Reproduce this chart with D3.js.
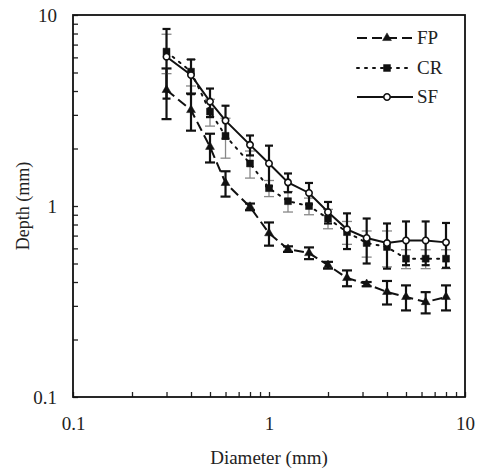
<!DOCTYPE html>
<html>
<head>
<meta charset="utf-8">
<script src="https://cdn.jsdelivr.net/npm/d3@7"></script>
<style>
  body { margin: 0; background: #fff; }
</style>
</head>
<body>
<script>
// diameters (mm) shared by all three series
const diameters = [0.3, 0.4, 0.5, 0.6, 0.8, 1, 1.25, 1.6, 2, 2.5, 3.15, 4, 5, 6.3, 8];

const fpDepth = [4.05, 3.18, 2.04, 1.32, 0.99, 0.72, 0.595, 0.567, 0.49, 0.42, 0.39, 0.355, 0.334, 0.314, 0.334];
const fpErr   = [1.2, 0.7, 0.35, 0.2, 0.04, 0.1, 0.02, 0.04, 0.02, 0.04, 0.01, 0.05, 0.05, 0.04, 0.05];

const crDepth = [6.43, 5.05, 3.12, 2.33, 1.67, 1.24, 1.06, 1.0, 0.86, 0.73, 0.64, 0.61, 0.53, 0.53, 0.53];
const crErr   = [1.5, 0.8, 0.5, 0.55, 0.27, 0.12, 0.13, 0.1, 0.1, 0.1, 0.1, 0.13, 0.06, 0.06, 0.06];

const sfDepth = [6.05, 4.85, 3.52, 2.80, 2.09, 1.67, 1.33, 1.17, 0.93, 0.755, 0.68, 0.64, 0.66, 0.66, 0.645];
const sfErr   = [2.4, 1.0, 0.6, 0.55, 0.25, 0.4, 0.15, 0.15, 0.12, 0.16, 0.18, 0.17, 0.17, 0.17, 0.17];

const xTicks = [0.1, 1, 10];
const yTicks = [0.1, 1, 10];

const W = 477, H = 470;
const margin = { left: 73, right: 12, top: 15, bottom: 73 };
const SERIF = '"Liberation Serif", "DejaVu Serif", serif';

const x = d3.scaleLog().domain([0.1, 10]).range([margin.left, W - margin.right]);
const y = d3.scaleLog().domain([0.1, 10]).range([H - margin.bottom, margin.top]);

const svg = d3.select('body').append('svg')
    .attr('width', W)
    .attr('height', H)
    .attr('font-family', SERIF);

// minor ticks at every 1..9 in each decade
const minorTicks = d3.range(-1, 1).flatMap(p => d3.range(1, 10).map(k => k * Math.pow(10, p))).concat([10]);
const fmt = d => xTicks.includes(d) ? (d === 0.1 ? '0.1' : String(d)) : '';

const xAxis = svg.append('g')
    .attr('transform', `translate(0,${y.range()[0]})`)
    .call(d3.axisBottom(x).tickValues(minorTicks).tickFormat(fmt).tickSize(-5).tickPadding(20));

const yAxis = svg.append('g')
    .attr('transform', `translate(${margin.left},0)`)
    .call(d3.axisLeft(y).tickValues(minorTicks).tickFormat(d => yTicks.includes(d) ? fmt(d) : '').tickSize(-5).tickPadding(16));

[xAxis, yAxis].forEach(g => {
    g.attr('font-family', SERIF);
    g.select('.domain').remove();
    g.selectAll('.tick line').attr('stroke', '#222').attr('stroke-width', 1.3);
    g.selectAll('.tick text').attr('font-family', SERIF).style('font-size', '19px').attr('fill', '#222');
});

// frame
svg.append('rect')
    .attr('x', x.range()[0]).attr('y', y.range()[1])
    .attr('width', x.range()[1] - x.range()[0])
    .attr('height', y.range()[0] - y.range()[1])
    .attr('fill', 'none').attr('stroke', '#111').attr('stroke-width', 1.8);

svg.append('text')
    .attr('x', (x.range()[0] + x.range()[1]) / 2)
    .attr('y', 464)
    .attr('text-anchor', 'middle')
    .attr('font-family', SERIF)
    .attr('fill', '#222')
    .style('font-size', '19px')
    .text('Diameter (mm)');

svg.append('text')
    .attr('transform', `translate(29,${(y.range()[0] + y.range()[1]) / 2}) rotate(-90)`)
    .attr('text-anchor', 'middle')
    .attr('font-family', SERIF)
    .attr('fill', '#222')
    .style('font-size', '18px')
    .text('Depth (mm)');

const series = [
    { name: 'FP', depth: fpDepth, err: fpErr, dash: '10,5', cap: 5, barColor: '#111', barWidth: 2.2, symbol: d3.symbolTriangle, size: 34, fill: '#111' },
    { name: 'CR', depth: crDepth, err: crErr, dash: '2,6', cap: 5, barColor: '#888', barWidth: 1.3, symbol: d3.symbolSquare, size: 48, fill: '#111' },
    { name: 'SF', depth: sfDepth, err: sfErr, dash: null, cap: 4, barColor: '#111', barWidth: 2.2, symbol: d3.symbolCircle, size: 32, fill: '#fff' }
];

const line = d3.line().x(d => x(d.d)).y(d => y(d.v));

series.forEach(s => {
    const pts = diameters.map((d, i) => ({ d, v: s.depth[i], e: s.err[i] }));
    const g = svg.append('g').attr('class', 'series-' + s.name);

    // error bars
    const bars = g.selectAll('.err').data(pts).enter().append('g')
        .attr('stroke', s.barColor).attr('stroke-width', s.barWidth);
    bars.append('line')
        .attr('x1', p => x(p.d)).attr('x2', p => x(p.d))
        .attr('y1', p => y(p.v + p.e)).attr('y2', p => y(Math.max(p.v - p.e, 0.11)));
    bars.append('line')
        .attr('x1', p => x(p.d) - s.cap).attr('x2', p => x(p.d) + s.cap)
        .attr('y1', p => y(p.v + p.e)).attr('y2', p => y(p.v + p.e));
    bars.append('line')
        .attr('x1', p => x(p.d) - s.cap).attr('x2', p => x(p.d) + s.cap)
        .attr('y1', p => y(p.v - p.e)).attr('y2', p => y(p.v - p.e));

    g.append('path')
        .attr('d', line(pts))
        .attr('fill', 'none')
        .attr('stroke', '#111')
        .attr('stroke-width', 2)
        .attr('stroke-linecap', s.dash === '2,6' ? 'round' : 'butt')
        .attr('stroke-dasharray', s.dash);

    g.selectAll('.mark').data(pts).enter().append('path')
        .attr('transform', p => `translate(${x(p.d)},${y(p.v)})`)
        .attr('d', d3.symbol().type(s.symbol).size(s.size))
        .attr('fill', s.fill)
        .attr('stroke', '#111')
        .attr('stroke-width', s.name === 'SF' ? 1.6 : 0.5);
});

// legend
const legendY = [38, 68, 97];
series.forEach((s, i) => {
    const lg = svg.append('g').attr('transform', `translate(357,${legendY[i]})`);
    lg.append('line')
        .attr('x1', 0).attr('x2', 56).attr('y1', 0).attr('y2', 0)
        .attr('stroke', '#111').attr('stroke-width', 2)
        .attr('stroke-linecap', s.dash === '2,6' ? 'round' : 'butt')
        .attr('stroke-dasharray', s.dash);
    lg.append('path')
        .attr('transform', 'translate(30,0)')
        .attr('d', d3.symbol().type(s.symbol).size(s.size))
        .attr('fill', s.fill).attr('stroke', '#111')
        .attr('stroke-width', s.name === 'SF' ? 1.6 : 0.5);
    lg.append('text')
        .attr('x', 60).attr('y', 6)
        .attr('font-family', SERIF)
        .attr('fill', '#222')
        .style('font-size', '19px')
        .text(s.name);
});
</script>
</body>
</html>
